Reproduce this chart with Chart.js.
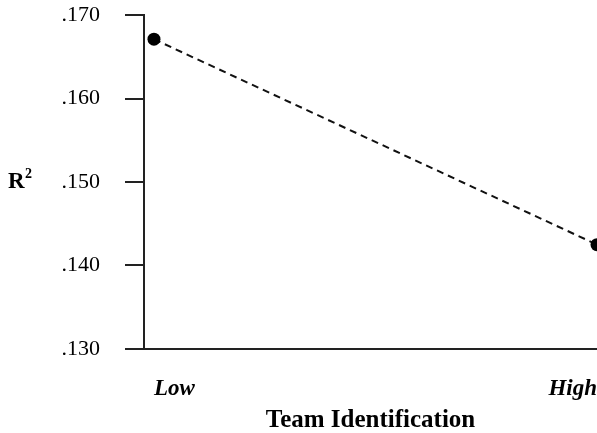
<!DOCTYPE html>
<html>
<head>
<meta charset="utf-8">
<script src="https://cdn.jsdelivr.net/npm/chart.js@4.4.0/dist/chart.umd.min.js"></script>
<style>
    html, body { margin: 0; padding: 0; background: #fff; }
    #wrap { width: 597px; height: 433px; }
</style>
</head>
<body>
<div id="wrap"><canvas id="r2Chart"></canvas></div>
<script>
// Data
const categories = ['Low', 'High'];
const rSquared = [0.1671, 0.1425];
const yTickValues = [0.13, 0.14, 0.15, 0.16, 0.17];
const xTitle = 'Team Identification';

const SERIF = "'Liberation Serif', 'Times New Roman', serif";

// R² label on the left side
const yLabelPlugin = {
    id: 'yLabel',
    afterDraw(chart) {
        const ctx = chart.ctx;
        ctx.save();
        ctx.fillStyle = '#000';
        ctx.textBaseline = 'alphabetic';
        ctx.font = 'bold 23px ' + SERIF;
        ctx.fillText('R', 8, 188);
        ctx.font = 'bold 14px ' + SERIF;
        ctx.fillText('2', 25, 178);
        ctx.restore();
    }
};

function initChart() {
    const ctx = document.getElementById('r2Chart');

    new Chart(ctx, {
        type: 'line',
        data: {
            datasets: [{
                label: 'R2',
                data: categories.map((c, i) => ({ x: i, y: rSquared[i] })),
                borderColor: '#111',
                borderWidth: 2,
                borderDash: [7, 5],
                pointRadius: 6.5,
                pointBackgroundColor: '#000',
                pointBorderColor: '#000',
                pointBorderWidth: 0,
                clip: false,
                tension: 0
            }]
        },
        options: {
            responsive: true,
            maintainAspectRatio: false,
            animation: false,
            layout: {
                autoPadding: false,
                padding: { top: 15, right: 0, bottom: 0, left: 0 }
            },
            plugins: {
                legend: { display: false },
                tooltip: { enabled: false }
            },
            scales: {
                x: {
                    type: 'linear',
                    min: -0.0225,
                    max: 1,
                    afterBuildTicks: (scale) => {
                        scale.ticks = categories.map((c, i) => ({ value: i }));
                    },
                    afterFit: (scale) => {
                        scale.height = 84;
                        scale.paddingLeft = 0;
                        scale.paddingRight = 0;
                    },
                    grid: { display: false, drawTicks: false },
                    border: { display: true, color: '#222', width: 2 },
                    ticks: {
                        align: 'inner',
                        padding: 26,
                        color: '#000',
                        font: { family: SERIF, size: 23, weight: 'bold', style: 'italic' },
                        callback: (v) => categories[v] ?? ''
                    },
                    title: {
                        display: true,
                        text: xTitle,
                        color: '#000',
                        padding: { top: 0, bottom: 0 },
                        font: { family: SERIF, size: 25, weight: 'bold', lineHeight: 1 }
                    }
                },
                y: {
                    min: 0.13,
                    max: 0.17,
                    afterBuildTicks: (scale) => {
                        scale.ticks = yTickValues.map(v => ({ value: v }));
                    },
                    afterFit: (scale) => {
                        scale.width = 144;
                        scale.paddingTop = 0;
                        scale.paddingBottom = 0;
                    },
                    grid: {
                        drawOnChartArea: false,
                        drawTicks: true,
                        tickLength: 19,
                        color: '#222',
                        lineWidth: 2
                    },
                    border: { display: true, color: '#222', width: 2 },
                    ticks: {
                        padding: 25,
                        color: '#000',
                        font: { family: SERIF, size: 22 },
                        callback: (v) => v.toFixed(3).replace(/^0/, '')
                    }
                }
            }
        },
        plugins: [yLabelPlugin]
    });
}

document.addEventListener('DOMContentLoaded', initChart);
</script>
</body>
</html>
